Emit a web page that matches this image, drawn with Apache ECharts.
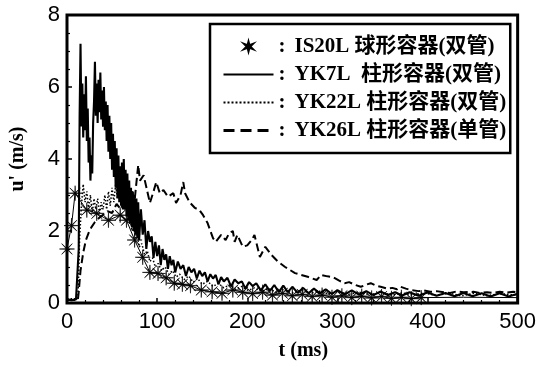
<!DOCTYPE html>
<html>
<head>
<meta charset="utf-8">
<script src="https://cdn.jsdelivr.net/npm/echarts@6/dist/echarts.min.js"></script>
<style>
  html, body { margin: 0; padding: 0; background: #fff; }
  #chart { width: 539px; height: 367px; }
</style>
</head>
<body>
<div id="chart"></div>
<script>
// Series labels shown in the legend
const seriesNames = [
  'IS20L 球形容器(双管)',
  'YK7L  柱形容器(双管)',
  'YK22L 柱形容器(双管)',
  'YK26L 柱形容器(单管)'
];

// IS20L spherical vessel, twin pipe (marked with asterisks)
const is20Time = [0, 5, 9, 22, 33, 46, 59, 66, 75, 84, 92, 101, 110, 119, 128, 137, 149, 161, 172, 184, 195, 206, 217, 228, 239, 250, 261, 272, 283, 294, 305, 316, 327, 338, 349, 360, 371, 382, 393, 440, 500];
const is20Vel  = [1.5, 2.15, 3.05, 2.58, 2.49, 2.3, 2.44, 2.3, 1.75, 1.27, 0.85, 0.82, 0.7, 0.55, 0.52, 0.48, 0.36, 0.31, 0.27, 0.36, 0.3, 0.26, 0.3, 0.22, 0.27, 0.2, 0.24, 0.18, 0.22, 0.16, 0.2, 0.15, 0.19, 0.14, 0.18, 0.13, 0.16, 0.12, 0.15, 0.16, 0.15];
const is20Unmarked = 2; // trailing points drawn as plain line

// YK7L cylindrical vessel, twin pipe (solid)
const yk7Time = [0, 5, 10, 12, 13, 14, 15, 16, 17, 18, 19, 20, 21, 22, 23, 24, 25, 26, 27, 28, 29, 30, 31, 32, 33, 34, 35, 36, 37, 38, 39, 40, 41, 42, 43, 44, 45, 46, 47, 48, 49, 50, 51, 52, 53, 54, 55, 56, 57, 58, 59, 60, 61, 62, 63, 64, 65, 66, 67, 68, 69, 70, 71, 72, 73, 74, 75, 76, 77, 78, 79, 80, 82, 84, 86, 88, 90, 92, 94, 96, 98, 100, 102, 104, 106, 108, 110, 112, 114, 116, 118, 120, 123, 126, 129, 132, 135, 138, 141, 144, 147, 150, 153, 156, 159, 162, 165, 168, 171, 174, 178, 182, 186, 190, 194, 198, 202, 206, 210, 215, 220, 225, 230, 235, 240, 245, 250, 256, 262, 268, 274, 280, 287, 294, 300, 308, 316, 324, 332, 340, 348, 356, 364, 372, 380, 390, 400, 410, 420, 430, 440, 450, 460, 470, 480, 490, 500];
const yk7Vel  = [0.1, 0.08, 0.1, 0.12, 1.5, 5.2, 7.2, 4.9, 6.1, 4.6, 5.8, 4.8, 6.3, 4.5, 5.4, 3.9, 4.6, 3.4, 4.1, 3.6, 5.0, 5.6, 6.7, 5.2, 6.1, 5.0, 6.2, 5.3, 6.4, 5.1, 5.9, 4.9, 6.0, 4.8, 5.6, 4.5, 5.5, 4.2, 5.2, 4.0, 5.0, 3.7, 4.7, 3.5, 4.5, 3.2, 4.3, 2.9, 4.1, 2.8, 3.8, 2.7, 3.9, 2.6, 4.0, 2.6, 3.7, 2.4, 3.6, 2.3, 3.4, 2.2, 3.2, 2.1, 3.1, 2.0, 3.0, 1.9, 2.9, 1.8, 2.8,
  1.75, 2.6, 1.9, 2.3, 1.5, 2.0, 1.7, 1.85, 1.25, 1.7, 1.3, 1.6, 1.05, 1.5, 1.2, 1.35, 0.95, 1.3, 1.05, 1.2, 0.85,
  1.15, 0.95, 1.05, 0.75, 1.0, 0.85, 0.95, 0.68, 0.9, 0.75, 0.85, 0.6, 0.8, 0.68, 0.78, 0.52, 0.72, 0.6,
  0.7, 0.46, 0.65, 0.55, 0.6, 0.4, 0.58, 0.47, 0.55,
  0.35, 0.52, 0.33, 0.5, 0.3, 0.48, 0.3, 0.45, 0.28, 0.42, 0.27, 0.4, 0.26, 0.38, 0.25, 0.36, 0.24, 0.35, 0.23, 0.33, 0.22, 0.32, 0.22, 0.3, 0.21, 0.3, 0.2, 0.29, 0.2, 0.28, 0.19, 0.28, 0.19, 0.27, 0.18, 0.27, 0.18, 0.26];

// YK22L cylindrical vessel, twin pipe (dotted)
const yk22Time = [0, 12, 13, 14, 16, 18, 20, 22, 24, 26, 28, 30, 32, 34, 36, 38, 40, 42, 44, 46, 48, 50, 52, 54, 56, 58, 60, 62, 64, 66, 68, 70, 72, 74, 76, 78, 80, 83, 86, 89, 92, 95, 98, 101, 105, 109, 113, 117, 121, 125, 130, 135, 140, 145, 150, 156, 162, 168, 174, 180, 187, 194, 201, 208, 216, 224, 232, 240, 250, 260, 270, 280, 290, 300, 312, 324, 336, 348, 360, 372, 384, 396, 410, 424, 438, 452, 466, 480, 500];
const yk22Vel  = [0.12, 0.12, 0.8, 1.8, 2.7, 3.3, 2.8, 3.1, 2.6, 3.0, 2.5, 2.9, 2.6, 2.9, 2.5, 2.8, 2.6, 3.0, 2.6, 3.1, 2.7, 3.2, 2.8, 3.3, 2.9, 3.4, 2.8, 3.1, 2.6, 2.8, 2.3, 2.5, 2.0, 2.1, 1.8, 1.9, 1.55, 1.65, 1.35, 1.45, 1.15, 1.25, 1.0, 1.1, 0.9, 1.0, 0.8, 0.9, 0.72, 0.8, 0.65, 0.75, 0.58, 0.68, 0.52, 0.6, 0.46, 0.55, 0.42, 0.5, 0.38, 0.46, 0.35, 0.42, 0.32, 0.4, 0.3, 0.37, 0.28, 0.35, 0.27, 0.33, 0.25, 0.32, 0.24, 0.3, 0.23, 0.3, 0.22, 0.28, 0.22, 0.28, 0.21, 0.27, 0.2, 0.27, 0.2, 0.26, 0.22];

// YK26L cylindrical vessel, single pipe (dashed)
const yk26Time = [0, 12, 13, 15, 18, 21, 24, 27, 31, 35, 40, 45, 50, 55, 60, 64, 68, 72, 75, 79, 81, 85, 88, 92, 96, 99, 103, 107, 112, 118, 121, 126, 129, 131, 136, 142, 147, 151, 156, 162, 165, 171, 176, 180, 184, 186, 189, 195, 200, 205, 208, 214, 220, 227, 234, 242, 253, 260, 268, 277, 282, 289, 295, 302, 308, 313, 320, 326, 331, 337, 343, 348, 355, 361, 366, 370, 376, 381, 390, 396, 403, 410, 418, 425, 432, 440, 451, 458, 466, 473, 480, 488, 495, 500];
const yk26Vel  = [0.08, 0.08, 0.3, 0.9, 1.4, 1.75, 1.95, 2.1, 2.25, 2.35, 2.45, 2.55, 2.5, 2.75, 2.6, 2.95, 2.7, 3.1, 2.85, 3.83, 3.4, 3.55, 3.22, 2.78, 3.1, 3.36, 3.05, 3.14, 2.95, 3.05, 2.78, 3.0, 3.36, 3.05, 2.8, 2.64, 2.58, 2.44, 2.22, 1.8, 1.7, 1.89, 1.75, 1.94, 2.0, 1.7, 1.89, 1.56, 1.6, 1.75, 1.89, 1.28, 1.56, 1.33, 1.15, 1.0, 0.83, 0.78, 0.72, 0.64, 0.78, 0.74, 0.72, 0.62, 0.55, 0.58, 0.5, 0.45, 0.5, 0.55, 0.48, 0.45, 0.4, 0.42, 0.38, 0.45, 0.4, 0.36, 0.33, 0.35, 0.31, 0.33, 0.3, 0.28, 0.32, 0.3, 0.31, 0.28, 0.3, 0.28, 0.31, 0.29, 0.31, 0.3];

// Axis ranges and tick spacing
const xRange = [0, 500], xStep = 100;
const yRange = [0, 8], yStep = 2;

// Eight-spoke asterisk marker for the plotted points
const asterisk = 'path://M100 50 L55.54 47.7 L85.36 14.64 L52.3 44.46 L50 0 L47.7 44.46 L14.64 14.64 L44.46 47.7 L0 50 L44.46 52.3 L14.64 85.36 L47.7 55.54 L50 100 L52.3 55.54 L85.36 85.36 L55.54 52.3 Z';
// Heavier six-spoke asterisk for the legend key
const asteriskBold = 'path://M50 0 L60 38 L93.3 25 L68 50 L93.3 75 L60 62 L50 100 L40 62 L6.7 75 L32 50 L6.7 25 L40 38 Z';

const zip = (ts, vs) => ts.map((t, i) => [t, vs[i]]);

const is20Data = zip(is20Time, is20Vel).map((p, i) =>
  i >= is20Time.length - is20Unmarked ? { value: p, symbol: 'none' } : p);

const serifBold = '"Liberation Serif", "Times New Roman", "Noto Sans CJK SC", serif';
const sans = '"Liberation Sans", Arial, sans-serif';

const chart = echarts.init(document.getElementById('chart'));
chart.setOption({
  animation: false,
  color: ['#000'],
  grid: {
    left: 63, right: 21, top: 15, bottom: 64,
    show: true, borderColor: '#000', borderWidth: 3, backgroundColor: 'transparent'
  },
  xAxis: {
    type: 'value', min: xRange[0], max: xRange[1], interval: xStep,
    name: 't (ms)', nameLocation: 'middle', nameGap: 38,
    nameTextStyle: { fontFamily: serifBold, fontWeight: 'bold', fontSize: 20, color: '#000', padding: [0, 0, 0, 22] },
    axisLine: { show: false },
    axisTick: { show: true, inside: true, length: 5, lineStyle: { color: '#000', width: 1.5 } },
    minorTick: { show: true, splitNumber: 5, length: 3, lineStyle: { color: '#000', width: 1.2 } },
    splitLine: { show: false },
    axisLabel: { fontFamily: sans, fontSize: 22, color: '#000', margin: 8 }
  },
  yAxis: {
    type: 'value', min: yRange[0], max: yRange[1], interval: yStep,
    name: "u' (m/s)", nameLocation: 'middle', nameGap: 39, nameRotate: 90,
    nameTextStyle: { fontFamily: serifBold, fontWeight: 'bold', fontSize: 20, color: '#000' },
    axisLine: { show: false },
    axisTick: { show: true, inside: true, length: 5, lineStyle: { color: '#000', width: 1.5 } },
    minorTick: { show: true, splitNumber: 4, length: 3, lineStyle: { color: '#000', width: 1.2 } },
    splitLine: { show: false },
    axisLabel: { fontFamily: sans, fontSize: 22, color: '#000', margin: 7 }
  },
  legend: {
    orient: 'vertical', left: 210, top: 24,
    padding: [12, 4, 12, 12],
    itemWidth: 50, itemHeight: 10, itemGap: 7,
    backgroundColor: '#fff', borderColor: '#000', borderWidth: 2.5,
    selectedMode: false,
    formatter: name => '{c|:}{n|' + name + '}',
    textStyle: {
      color: '#000',
      rich: {
        c: { fontFamily: serifBold, fontWeight: 'bold', fontSize: 21, width: 16, lineHeight: 24 },
        n: { fontFamily: serifBold, fontWeight: 'bold', fontSize: 21, lineHeight: 24 }
      }
    },
    data: [
      { name: seriesNames[0], icon: asteriskBold, itemStyle: { color: '#000' } },
      { name: seriesNames[1], itemStyle: { opacity: 0 }, lineStyle: { width: 1.8, type: 'solid' } },
      { name: seriesNames[2], itemStyle: { opacity: 0 }, lineStyle: { width: 2, type: [2, 2] } },
      { name: seriesNames[3], itemStyle: { opacity: 0 }, lineStyle: { width: 3, type: [11, 6] } }
    ]
  },
  series: [
    {
      name: seriesNames[0], type: 'line', data: is20Data,
      symbol: asterisk, symbolSize: 15, showAllSymbol: true,
      itemStyle: { color: '#000', borderColor: '#000', borderWidth: 0.6 },
      lineStyle: { color: '#000', width: 1 }, z: 3
    },
    {
      name: seriesNames[1], type: 'line', data: zip(yk7Time, yk7Vel),
      symbol: 'none', lineStyle: { color: '#000', width: 2.1 }, z: 4
    },
    {
      name: seriesNames[2], type: 'line', data: zip(yk22Time, yk22Vel),
      symbol: 'none', lineStyle: { color: '#000', width: 1.5, type: [1.5, 2] }, z: 2
    },
    {
      name: seriesNames[3], type: 'line', data: zip(yk26Time, yk26Vel),
      symbol: 'none', lineStyle: { color: '#000', width: 2, type: [8, 4] }, z: 2
    }
  ]
});
</script>
</body>
</html>
